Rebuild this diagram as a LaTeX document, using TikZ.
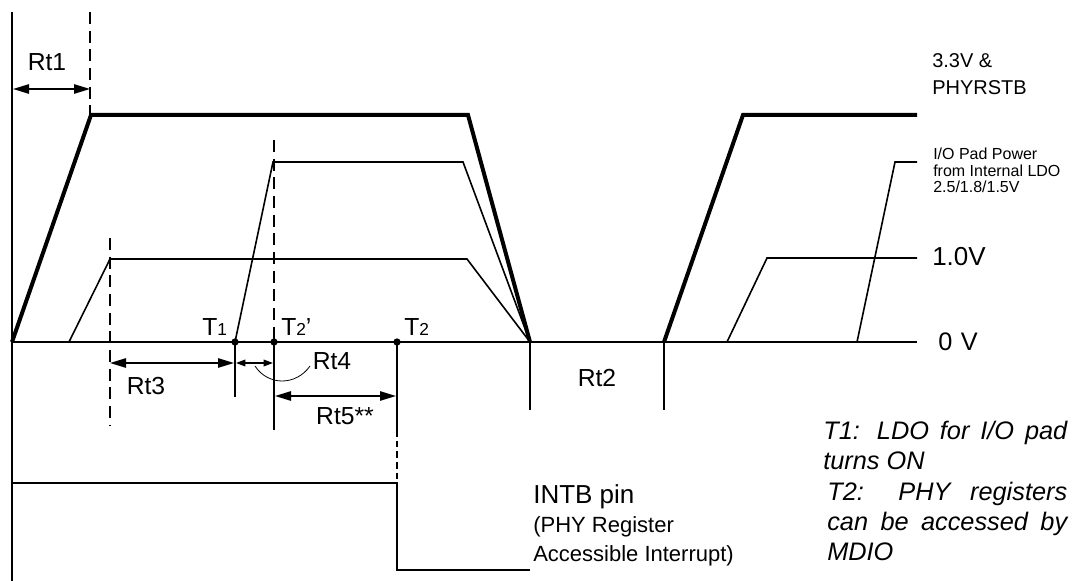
\documentclass[tikz,border=0pt]{standalone}
\usepackage{fontspec}
\setmainfont{Liberation Sans}
\usetikzlibrary{arrows.meta}
\tikzset{
  thinln/.style={line width=1.2pt},
  thickln/.style={line width=3pt, line join=miter},
  vdashed/.style={line width=1pt, dash pattern=on 9pt off 5pt},
  dimarr/.style={line width=1.2pt, {Triangle[length=12pt,width=7pt]}-{Triangle[length=12pt,width=7pt]}},
  smallarr/.style={line width=1pt, {Triangle[length=7pt,width=5pt]}-{Triangle[length=7pt,width=5pt]}},
  lbl/.style={inner sep=0pt, font=\fontsize{18.5}{20}\selectfont},
  tlbl/.style={inner sep=0pt, anchor=base west, font=\fontsize{18.5}{20}\selectfont},
  note/.style={inner sep=0pt, anchor=north west, align=left, font=\fontsize{19}{22.5}\selectfont\itshape},
  dot/.style={circle, fill, inner sep=0pt, minimum size=5.5pt}
}
\newcommand\subd[1]{{\fontsize{13}{13}\selectfont #1}}
\begin{document}
\begin{tikzpicture}[x=0.75pt,y=-0.75pt]
\useasboundingbox (0,0) rectangle (1074,581);
% coordinates
\coordinate (O) at (12,342);
\coordinate (E) at (917,342);
\coordinate (T1) at (235,342);
\coordinate (T2p) at (274,342);
\coordinate (T2) at (397,342);
\coordinate (F) at (530,342);
\coordinate (R) at (664,342);
% axes
\draw[thinln] (12,12) -- (12,581);
\draw[thinln] (O) -- (E);
% 3.3V
\draw[thickln] (O) -- (91,115) -- (468,115) -- (F);
\draw[thickln] (R) -- (743,115) -- (917,115);
% I/O pad power
\draw[thinln] (T1) -- (273,162) -- (463,162) -- (F);
\draw[thinln] (857,342) -- (895,162) -- (917,162);
% 1.0V
\draw[thinln] (69,342) -- (110,259) -- (467,259) -- (F);
\draw[thinln] (727,342) -- (767,258) -- (917,258);
% dashed markers
\draw[vdashed] (90,12) -- (90,115);
\draw[vdashed] (110,238) -- (110,425);
\draw[vdashed] (274,140) -- (T2p);
\draw[thinln] (T2p) -- (274,430);
\draw[thinln] (T1) -- (235,397);
\draw[thinln] (T2) -- (397,430);
\draw[line width=0.8pt, dash pattern=on 5pt off 3pt] (397,430) -- (397,483);
\draw[thinln] (F) -- (530,410);
\draw[thinln] (R) -- (664,410);
% dots
\node[dot] (d1) at (T1) {};
\node[dot] (d2) at (T2p) {};
\node[dot] (d3) at (T2) {};
% INTB
\draw[line width=2pt] (12,483) -- (397,483) -- (397,570) -- (530,570);
% dimension arrows
\draw[dimarr] (13,89) -- (90,89);
\draw[dimarr] (110,363) -- (234,363);
\draw[smallarr] (236,363) -- (273,363);
\draw[dimarr] (275,396) -- (396,396);
\draw[line width=0.6pt] (255,366) .. controls (268,386) and (296,386) .. (310,366);
% labels
\node[lbl] (lrt1) at (47,62) {Rt1};
\node[lbl] (lrt3) at (146,386) {Rt3};
\node[lbl] (lrt4) at (332,361) {Rt4};
\node[lbl] (lrt5) at (345,416) {Rt5**};
\node[lbl] (lrt2) at (597,378) {Rt2};
\node[tlbl] (lt1) at (202,335) {T\subd{1}};
\node[tlbl] (lt2p) at (281,335) {T\subd{2}'};
\node[tlbl] (lt2) at (404,335) {T\subd{2}};
\node[inner sep=0pt, anchor=north west, align=left, font=\fontsize{15}{20.5}\selectfont] (l33) at (932,53) {3.3V \&\\PHYRSTB};
\node[inner sep=0pt, anchor=north west, align=left, font=\fontsize{12}{12.4}\selectfont] (lio) at (933,148) {I/O Pad Power\\from Internal LDO\\2.5/1.8/1.5V};
\node[inner sep=0pt, anchor=west, font=\fontsize{19.5}{20}\selectfont] (l10) at (932,257) {1.0V};
\node[inner sep=0pt, anchor=west, font=\fontsize{19}{20}\selectfont] (l0) at (938,342) {0\,\,V};
\node[inner sep=0pt, anchor=west, font=\fontsize{19.5}{20}\selectfont] (lintb) at (533,497) {INTB pin};
\node[inner sep=0pt, anchor=north west, align=left, font=\fontsize{16.5}{21.8}\selectfont] (lintb2) at (533,516) {(PHY Register\\Accessible Interrupt)};
\node[note] (n1) at (823,421) {\makebox[183pt][s]{T1: LDO for I/O pad}\\turns ON};
\node[note] (n2) at (827,482) {\makebox[180pt][s]{T2: PHY registers}\\\makebox[180pt][s]{can be accessed by}\\MDIO};
\end{tikzpicture}
\end{document}
